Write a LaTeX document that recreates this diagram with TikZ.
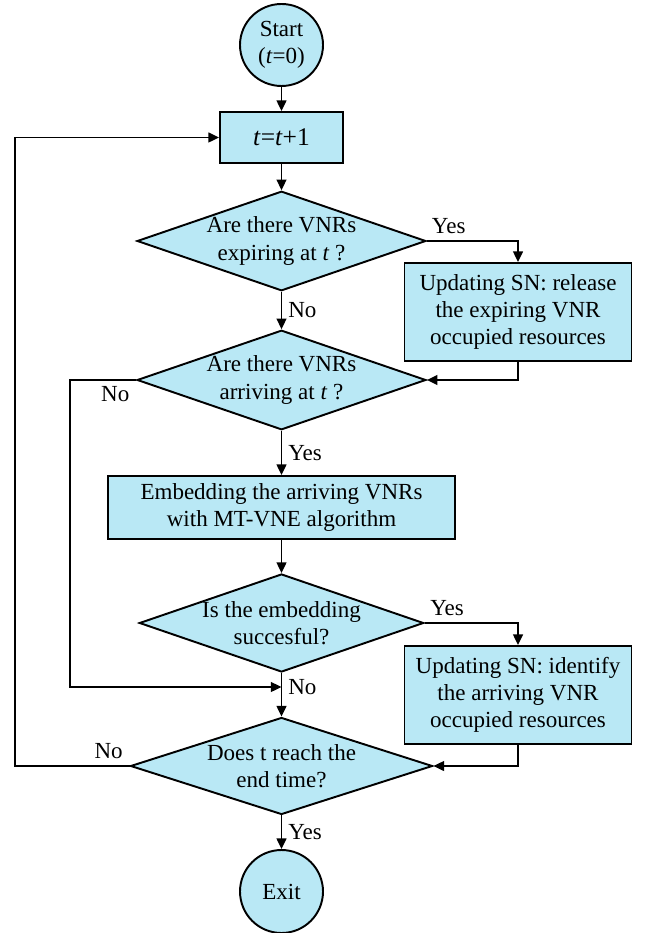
\documentclass[tikz,border=0pt]{standalone}
\usepackage{fontspec}
\setmainfont{Liberation Serif}
\usetikzlibrary{shapes.geometric, arrows.meta, positioning}
\definecolor{flowfill}{RGB}{185,232,245}

\begin{document}
\begin{tikzpicture}[
  font=\fontsize{13.1}{15.4}\selectfont,
  terminal/.style={ellipse, draw, fill=flowfill, line width=1.1pt,
                   inner sep=0pt, minimum width=1.66cm, minimum height=1.64cm,
                   align=center},
  process/.style={rectangle, draw, fill=flowfill, line width=1.1pt,
                  inner sep=2pt, align=center},
  decision/.style={diamond, draw, fill=flowfill, line width=1.1pt,
                   inner sep=0pt, aspect=2.9, align=center,
                   minimum width=5.62cm, minimum height=1.94cm},
  flow/.style={-{Triangle[length=6pt, width=5.5pt]}, line width=1.1pt},
]
\useasboundingbox (0,0) rectangle (12.98,-18.66);

% Nodes
\node[terminal] (start) at (5.63, -0.9) {Start\\(\textit{t}=0)};
\node[process, minimum width=2.46cm, minimum height=1.02cm,
      font=\fontsize{14.5}{17}\selectfont] (tstep) at (5.63, -2.75) {\textit{t}=\textit{t}+1};
\node[decision] (expire) at (5.63, -4.82) {Are there VNRs\\expiring at \textit{t} ?};
\node[process, minimum width=4.54cm, minimum height=1.96cm] (release) at (10.36, -6.24) {Updating SN: release\\the expiring VNR\\occupied resources};
\node[decision] (arrive) at (5.63, -7.6) {Are there VNRs\\arriving at \textit{t} ?};
\node[process, minimum width=6.94cm, minimum height=1.26cm] (embed) at (5.63, -10.15) {Embedding the arriving VNRs\\with MT-VNE algorithm};
\node[decision] (success) at (5.63, -12.46) {Is the embedding\\succesful?};
\node[process, minimum width=4.54cm, minimum height=1.96cm] (identify) at (10.36, -13.9) {Updating SN: identify\\the arriving VNR\\occupied resources};
\node[decision, minimum width=6.04cm] (endchk) at (5.63, -15.32) {Does t reach the\\end time?};
\node[terminal, minimum height=1.66cm] (exit) at (5.63, -17.83) {Exit};
\coordinate (merge) at (5.63, -13.74);

% Connectors
\draw[flow] (start) -- (tstep);
\draw[flow] (tstep) -- (expire);
\draw[flow] (expire.east) -| node[pos=0.12, above] {Yes} (release.north);
\draw[flow] (release.south) |- (arrive.east);
\draw[flow] (expire.south) -- node[right] {No} (arrive.north);
\draw[flow] (arrive.south) -- node[right] {Yes} (embed.north);
\draw[flow] (embed) -- (success);
\draw[flow] (success.east) -| node[pos=0.12, above] {Yes} (identify.north);
\draw[flow] (identify.south) |- (endchk.east);
\draw[flow] (arrive.west) node[below left] {No} -- ++(-1.32, 0) |- (merge) node[right] {No};
\draw[flow] (success.south) -- (endchk.north);
\draw[flow] (endchk.west) node[above left] {No} -- ++(-2.3, 0) |- (tstep.west);
\draw[flow] (endchk.south) -- node[right] {Yes} (exit.north);

\end{tikzpicture}
\end{document}
